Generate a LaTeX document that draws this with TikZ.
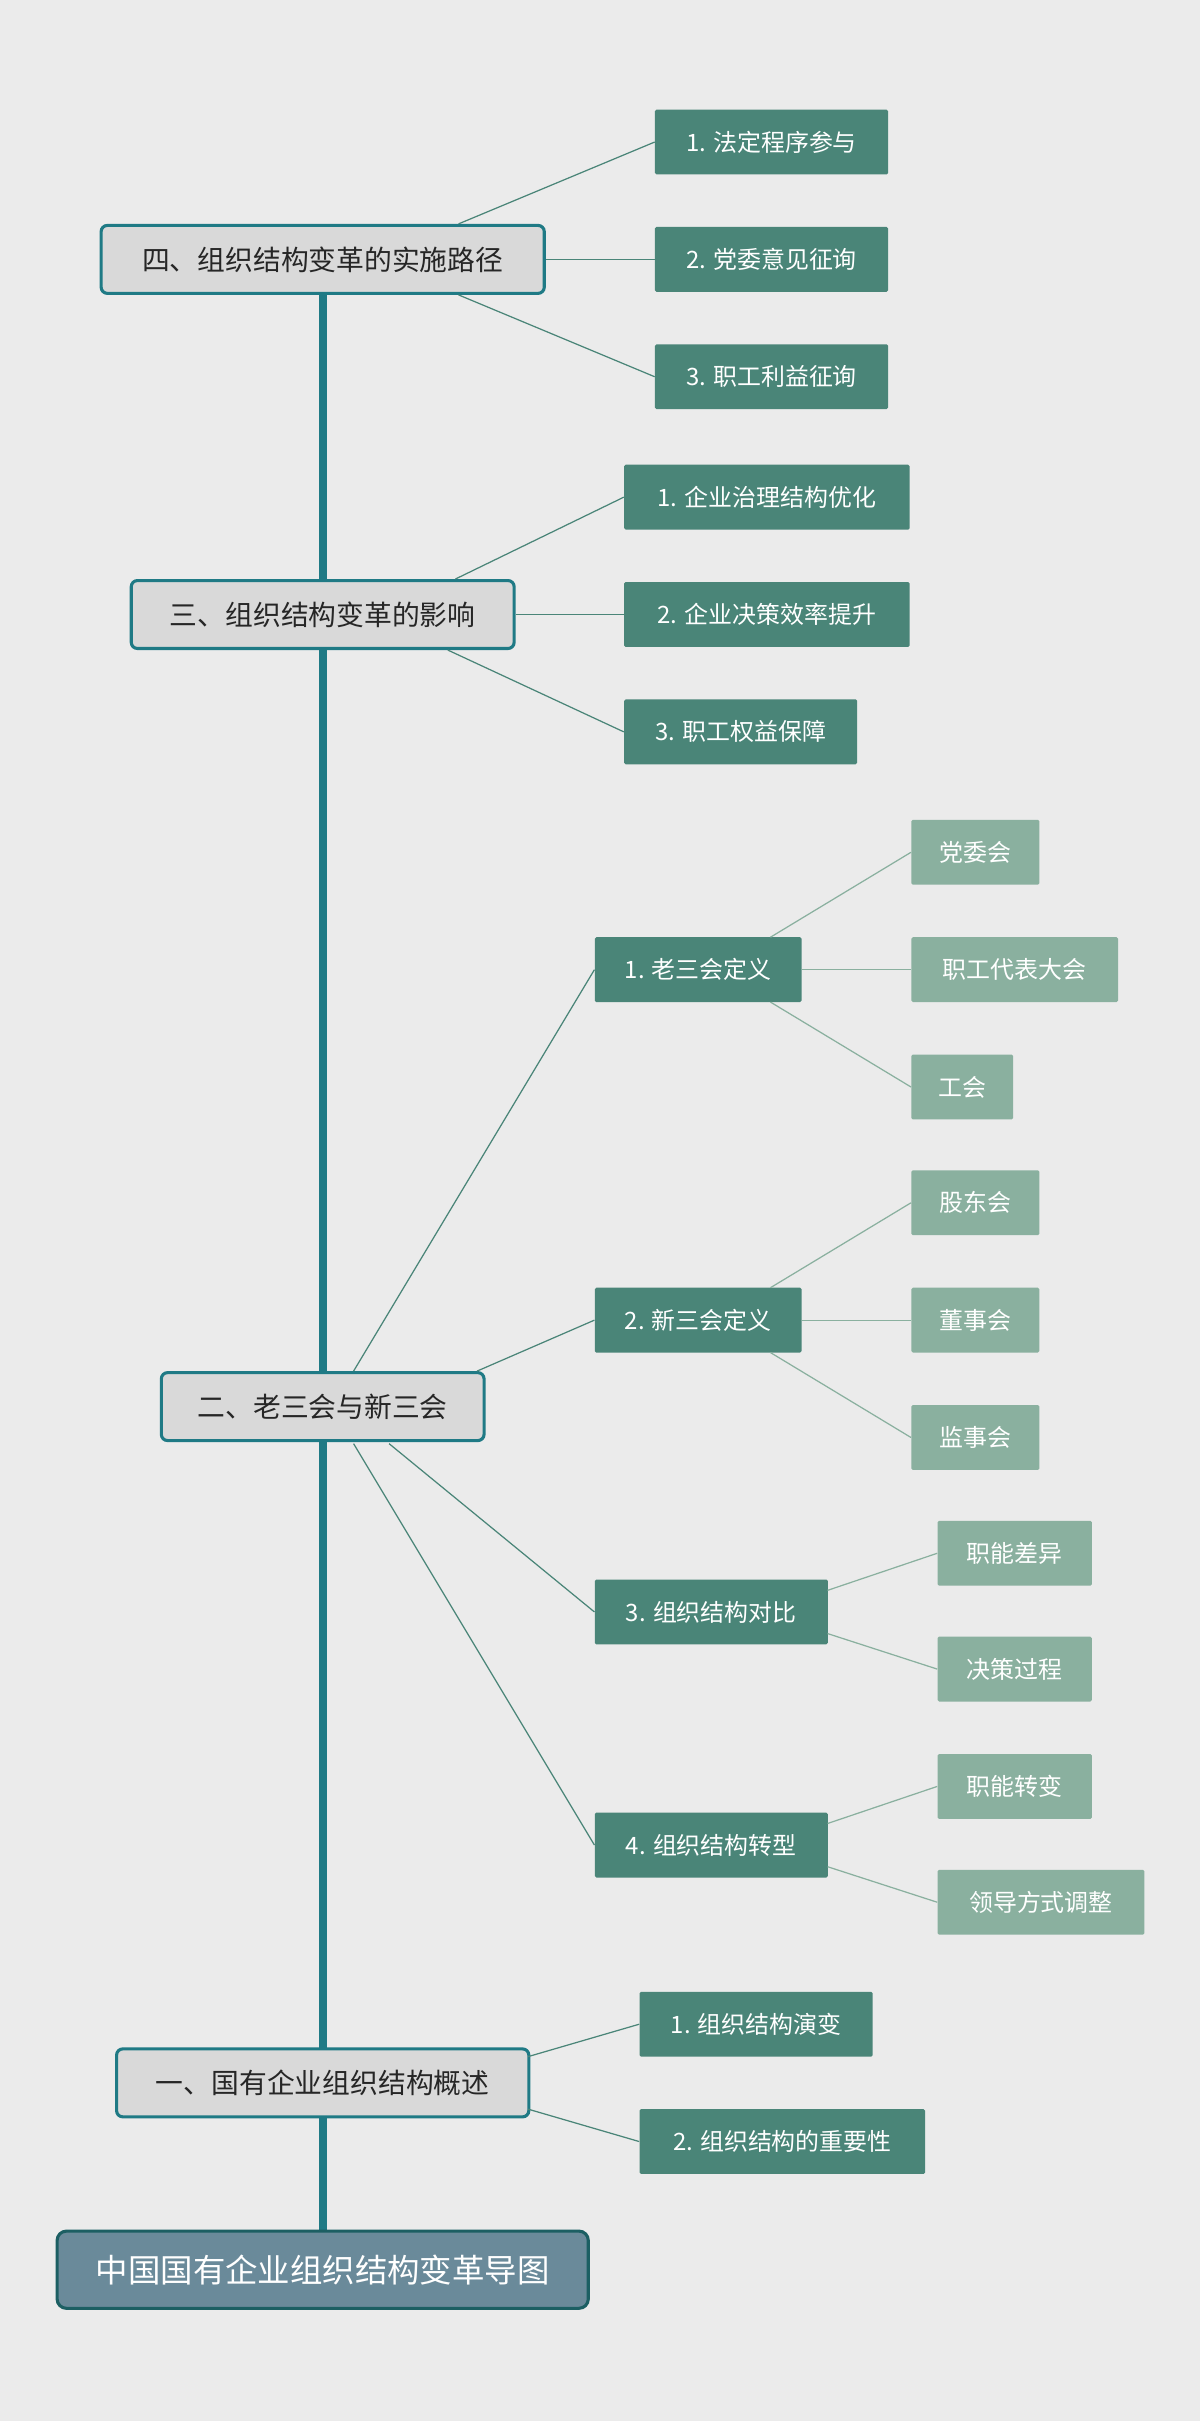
\documentclass[tikz,border=0pt]{standalone}
\usepackage{fontspec}
\setmainfont{Noto Sans CJK SC}
\definecolor{bg}{HTML}{EBEBEB}
\definecolor{spine}{HTML}{1F7A85}
\definecolor{lone}{HTML}{D9D9D9}
\definecolor{ltwo}{HTML}{4A8578}
\definecolor{lthree}{HTML}{8AB09F}
\definecolor{rootf}{HTML}{6A8A9A}
\definecolor{rootb}{HTML}{1C5F63}
\begin{document}
\begin{tikzpicture}[x=1pt,y=-1pt,
 lone/.style={draw=spine,line width=2pt,fill=lone,rounded corners=4pt,minimum height=44pt,inner xsep=18pt,font=\fontsize{18}{20}\selectfont,text=black!85},
 ltwo/.style={fill=ltwo,anchor=west,minimum height=42pt,inner xsep=16pt,font=\fontsize{15.5}{18}\selectfont,text=white,rounded corners=1pt},
 lthree/.style={fill=lthree,anchor=west,minimum height=42pt,inner xsep=16pt,font=\fontsize{15.5}{18}\selectfont,text=white,rounded corners=1pt},
 ca/.style={draw=ltwo,line width=0.8pt},
 cb/.style={draw=lthree,line width=0.8pt}]
\fill[bg] (0,0) rectangle (777,1568);
\useasboundingbox (0,0) rectangle (777,1568);
\draw[spine,line width=5pt] (209,175) -- (209,1460);
\node[draw=rootb,line width=2pt,fill=rootf,rounded corners=6pt,minimum width=344pt,minimum height=50pt,font=\fontsize{21}{24}\selectfont,text=white] (root) at (209,1470) {中国国有企业组织结构变革导图};
\node[lone,minimum width=287pt] (s4) at (209,168) {四、组织结构变革的实施路径};
\node[lone,minimum width=248pt] (s3) at (209,398) {三、组织结构变革的影响};
\node[lone,minimum width=209pt] (s2) at (209,911) {二、老三会与新三会};
\node[lone,minimum width=267pt] (s1) at (209,1349) {一、国有企业组织结构概述};
% L2
\node[ltwo,minimum width=151pt] (a1) at (424,92) {1. 法定程序参与};
\node[ltwo,minimum width=151pt] (a2) at (424,168) {2. 党委意见征询};
\node[ltwo,minimum width=151pt] (a3) at (424,244) {3. 职工利益征询};
\node[ltwo,minimum width=185pt] (b1) at (404,322) {1. 企业治理结构优化};
\node[ltwo,minimum width=185pt] (b2) at (404,398) {2. 企业决策效率提升};
\node[ltwo,minimum width=151pt] (b3) at (404,474) {3. 职工权益保障};
\node[ltwo,minimum width=134pt] (c1) at (385,628) {1. 老三会定义};
\node[ltwo,minimum width=134pt] (c2) at (385,855) {2. 新三会定义};
\node[ltwo,minimum width=151pt] (c3) at (385,1044) {3. 组织结构对比};
\node[ltwo,minimum width=151pt] (c4) at (385,1195) {4. 组织结构转型};
\node[ltwo,minimum width=151pt] (d1) at (414,1311) {1. 组织结构演变};
\node[ltwo,minimum width=185pt] (d2) at (414,1387) {2. 组织结构的重要性};
% L3
\node[lthree,minimum width=83pt] (e1) at (590,552) {党委会};
\node[lthree,minimum width=134pt] (e2) at (590,628) {职工代表大会};
\node[lthree,minimum width=66pt] (e3) at (590,704) {工会};
\node[lthree,minimum width=83pt] (f1) at (590,779) {股东会};
\node[lthree,minimum width=83pt] (f2) at (590,855) {董事会};
\node[lthree,minimum width=83pt] (f3) at (590,931) {监事会};
\node[lthree,minimum width=100pt] (g1) at (607,1006) {职能差异};
\node[lthree,minimum width=100pt] (g2) at (607,1081) {决策过程};
\node[lthree,minimum width=100pt] (h1) at (607,1157) {职能转变};
\node[lthree,minimum width=134pt] (h2) at (607,1232) {领导方式调整};
% connectors
\draw[ca] (297,145) -- (a1.west);
\draw[ca] (s4.east) -- (a2.west);
\draw[ca] (297,191) -- (a3.west);
\draw[ca] (295,375) -- (b1.west);
\draw[ca] (s3.east) -- (b2.west);
\draw[ca] (290,421) -- (b3.west);
\draw[ca] (229,888) -- (c1.west);
\draw[ca] (309,888) -- (c2.west);
\draw[ca] (252,935) -- (c3.west);
\draw[ca] (229,935) -- (c4.west);
\draw[ca] (342,1332) -- (d1.west);
\draw[ca] (342,1366) -- (d2.west);
\draw[cb] (499,607) -- (e1.west);
\draw[cb] (c1.east) -- (e2.west);
\draw[cb] (499,649) -- (e3.west);
\draw[cb] (499,834) -- (f1.west);
\draw[cb] (c2.east) -- (f2.west);
\draw[cb] (499,876) -- (f3.west);
\draw[cb] (536,1030) -- (g1.west);
\draw[cb] (536,1058) -- (g2.west);
\draw[cb] (536,1181) -- (h1.west);
\draw[cb] (536,1209) -- (h2.west);
\end{tikzpicture}
\end{document}
